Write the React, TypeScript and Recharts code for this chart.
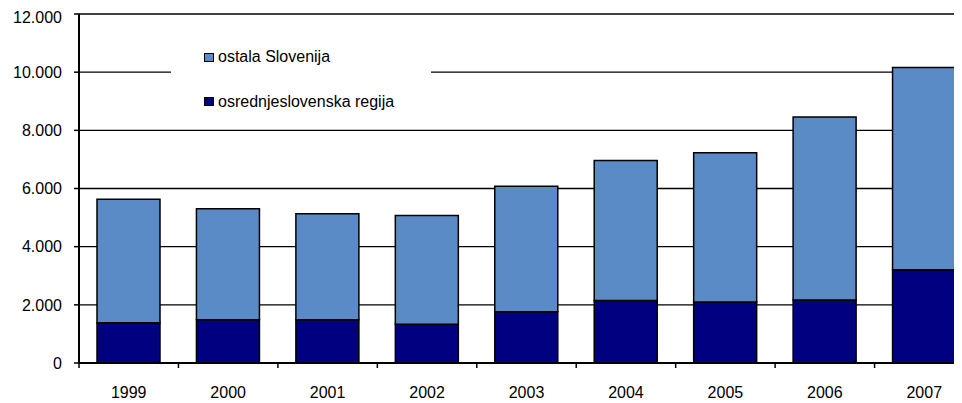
import { BarChart, Bar, XAxis, YAxis, CartesianGrid, Legend } from "recharts";

const years = ["1999", "2000", "2001", "2002", "2003", "2004", "2005", "2006", "2007"];
const osrednjeslovenska = [1380, 1490, 1490, 1330, 1760, 2150, 2100, 2170, 3210];
const ostala = [4250, 3810, 3640, 3740, 4320, 4810, 5130, 6290, 6950];
const yTicks = [0, 2000, 4000, 6000, 8000, 10000, 12000];

const data = years.map((year, i) => ({
  year,
  osrednjeslovenska: osrednjeslovenska[i],
  ostala: ostala[i],
}));

const FONT = '"Liberation Sans", Arial, sans-serif';
const DARK = "#000080";
const LIGHT = "#5b8bc6";

const fmt = (v: number) => String(v).replace(/\B(?=(\d{3})+(?!\d))/g, ".");

// category ticks: label in the middle, small tick line at the left band edge
function YearTick(props: any) {
  const { x, y, payload } = props;
  const half = payload && payload.offset ? payload.offset : 0;
  const axisY = y - 24;
  return (
    <g>
      <line x1={x - half} x2={x - half} y1={axisY} y2={axisY + 5} stroke="#000" strokeWidth={1.5} />
      <text x={x} y={y} dy="0.71em" textAnchor="middle" fontSize={16} fontFamily={FONT} fill="#000">
        {payload.value}
      </text>
    </g>
  );
}

function LegendBox(props: any) {
  const items = [...(props.payload || [])].reverse();
  return (
    <div style={{ background: "#fff", width: 260, height: 104, paddingTop: 26, boxSizing: "border-box" }}>
      {items.map((it: any, i: number) => (
        <div
          key={it.value}
          style={{
            display: "flex",
            alignItems: "center",
            height: 18,
            marginLeft: 33,
            marginTop: i === 0 ? 0 : 26.5,
            fontFamily: FONT,
            fontSize: 16,
            color: "#000",
          }}
        >
          <span
            style={{
              display: "inline-block",
              width: 8,
              height: 7,
              background: it.color,
              border: "1px solid #000",
              marginRight: 4,
            }}
          />
          {it.value}
        </div>
      ))}
    </div>
  );
}

export default function App() {
  return (
    <div style={{ width: 954, height: 395, overflow: "hidden" }}>
      <BarChart
        width={966}
        height={395}
        data={data}
        margin={{ top: 6, right: 0, bottom: 0, left: 0 }}
      >
        <CartesianGrid vertical={false} stroke="#000" strokeWidth={1.4} />
        <XAxis
          dataKey="year"
          height={40}
          tickSize={0}
          tickMargin={24}
          tickLine={false}
          axisLine={{ stroke: "#000", strokeWidth: 2 }}
          tick={<YearTick />}
          interval={0}
        />
        <YAxis
          width={71}
          domain={[0, 12000]}
          ticks={yTicks}
          tickFormatter={fmt}
          tickSize={5}
          tickMargin={12}
          axisLine={{ stroke: "#000", strokeWidth: 2 }}
          tickLine={{ stroke: "#000", strokeWidth: 1.5 }}
          tick={{ fontSize: 16, fontFamily: FONT, fill: "#000" }}
        />
        <Legend
          layout="vertical"
          align="center"
          verticalAlign="middle"
          content={<LegendBox />}
          wrapperStyle={{ left: 163, top: 14, width: 260, height: 104 }}
        />
        <Bar
          dataKey="osrednjeslovenska"
          name="osrednjeslovenska regija"
          stackId="a"
          fill={DARK}
          stroke="#000"
          strokeWidth={1.5}
          barSize={63}
          isAnimationActive={false}
        />
        <Bar
          dataKey="ostala"
          name="ostala Slovenija"
          stackId="a"
          fill={LIGHT}
          stroke="#000"
          strokeWidth={1.5}
          barSize={63}
          isAnimationActive={false}
        />
      </BarChart>
    </div>
  );
}
